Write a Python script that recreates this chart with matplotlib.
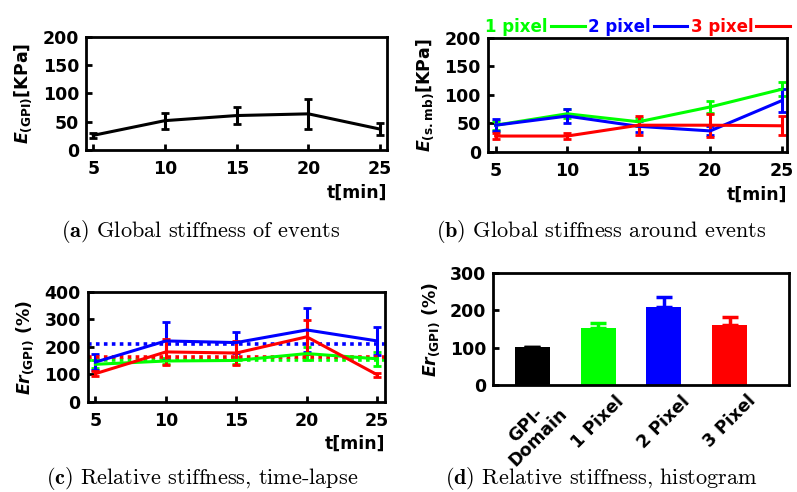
import numpy as np
import matplotlib.pyplot as plt
from matplotlib.lines import Line2D

plt.rcParams['font.family'] = ['DejaVu Sans']
plt.rcParams['font.weight'] = 'bold'
plt.rcParams['font.size'] = 12.5
plt.rcParams['axes.labelweight'] = 'bold'
plt.rcParams['mathtext.fontset'] = 'custom'
plt.rcParams['mathtext.it'] = 'DejaVu Sans:italic:bold'
plt.rcParams['mathtext.rm'] = 'DejaVu Sans:bold'
plt.rcParams['mathtext.bf'] = 'DejaVu Sans:bold'
plt.rcParams['axes.linewidth'] = 2
plt.rcParams['xtick.direction'] = 'in'
plt.rcParams['ytick.direction'] = 'in'
plt.rcParams['xtick.major.width'] = 2
plt.rcParams['ytick.major.width'] = 2
plt.rcParams['xtick.major.size'] = 4
plt.rcParams['ytick.major.size'] = 4
plt.rcParams['xtick.major.pad'] = 7
plt.rcParams['ytick.major.pad'] = 5

# time points (min)
t = [5, 10, 15, 20, 25]

# (a) global stiffness of events
e_gpi = [26, 52, 61, 64, 37]
e_gpi_err = [4, 14, 15, 26, 11]

# (b) global stiffness around events, per ring width
e_1px = [47, 67, 53, 79, 110]
e_1px_err = [8, 8, 7, 11, 12]
e_2px = [47, 63, 45, 37, 90]
e_2px_err = [10, 12, 10, 8, 20]
e_3px = [28, 28, 47, 47, 46]
e_3px_err = [5, 6, 17, 20, 17]

# (c) relative stiffness over time
r_1px = [137, 149, 151, 176, 157]
r_1px_err = [15, 12, 12, 25, 25]
r_2px = [145, 222, 216, 262, 222]
r_2px_err = [30, 68, 38, 80, 50]
r_3px = [103, 182, 178, 237, 99]
r_3px_err = [8, 48, 42, 62, 8]

# (d) relative stiffness histogram
bar_labels = ['GPI-\nDomain', '1 Pixel', '2 Pixel', '3 Pixel']
bar_values = [101, 153, 210, 162]
bar_errors = [1, 12, 27, 20]

GREEN = '#00ff00'
BLUE = '#0000ff'
RED = '#ff0000'
BAR_COLORS = ['black', GREEN, BLUE, RED]
LW = 2.2


def err_line(ax, y, yerr, color):
    ax.errorbar(t, y, yerr=yerr, color=color, lw=LW, elinewidth=LW,
                capsize=3, capthick=2)


def style_time_axis(ax):
    ax.set_xlim(4.5, 25.5)
    ax.set_xticks(t)
    ax.set_xlabel('t[min]', loc='right', labelpad=4)


fig = plt.figure(figsize=(7.97, 4.92), dpi=100)

# (a)
ax1 = fig.add_axes([0.108, 0.695, 0.378, 0.230])
err_line(ax1, e_gpi, e_gpi_err, 'black')
style_time_axis(ax1)
ax1.set_ylim(0, 200)
ax1.set_yticks([0, 50, 100, 150, 200])
ax1.set_ylabel(r'$E_{\rm (GPI)}$[KPa]', labelpad=6)

# (b)
ax2 = fig.add_axes([0.612, 0.691, 0.376, 0.232])
err_line(ax2, e_1px, e_1px_err, GREEN)
err_line(ax2, e_2px, e_2px_err, BLUE)
err_line(ax2, e_3px, e_3px_err, RED)
style_time_axis(ax2)
ax2.set_xlim(4.45, 25.4)
ax2.set_ylim(0, 200)
ax2.set_yticks([0, 50, 100, 150, 200])
ax2.set_ylabel(r'$E_{\rm (s.mb)}$[KPa]', labelpad=6)
handles = [Line2D([], [], color=c, lw=LW) for c in (GREEN, BLUE, RED)]
ax2.legend(handles, ['1 pixel', '2 pixel', '3 pixel'], ncol=3,
           markerfirst=False, labelcolor='linecolor', frameon=False,
           loc='lower center', bbox_to_anchor=(0.5, 1.02), fontsize=12,
           handlelength=2.0, handletextpad=0.2, columnspacing=0.2,
           borderaxespad=0, borderpad=0)

# (c)
ax3 = fig.add_axes([0.110, 0.183, 0.373, 0.2235])
for vals, errs, c, mean in ((r_1px, r_1px_err, GREEN, bar_values[1]),
                            (r_2px, r_2px_err, BLUE, bar_values[2]),
                            (r_3px, r_3px_err, RED, bar_values[3])):
    err_line(ax3, vals, errs, c)
    ax3.axhline(mean, color=c, lw=2.6, ls=(0, (1, 1.2)))
style_time_axis(ax3)
ax3.set_xlim(4.45, 25.55)
ax3.set_ylim(0, 400)
ax3.set_yticks([0, 100, 200, 300, 400])
ax3.set_ylabel(r'$Er_{\rm (GPI)}$ (%)', labelpad=6)

# (d)
ax4 = fig.add_axes([0.619, 0.2175, 0.371, 0.2275])
x = np.arange(len(bar_values))
ax4.bar(x, bar_values, width=0.53, color=BAR_COLORS)
for xi, v, e, c in zip(x, bar_values, bar_errors, BAR_COLORS):
    ax4.errorbar(xi, v, yerr=[[0], [e]], color=c, elinewidth=2.5,
                 capsize=5.5, capthick=2.5)
ax4.set_xlim(-0.59, 3.9)
ax4.set_ylim(0, 300)
ax4.set_yticks([0, 100, 200, 300])
ax4.set_xticks(x)
ax4.set_xticklabels(bar_labels, rotation=45, ha='center', va='top',
                    ma='center', linespacing=1.0)
ax4.tick_params(axis='x', length=0, pad=5)
ax4.set_ylabel(r'$Er_{\rm (GPI)}$ (%)', labelpad=6)

# captions
captions = [
    (0.251, 0.530, r'$\mathbf{(a)}$ Global stiffness of events'),
    (0.754, 0.530, r'$\mathbf{(b)}$ Global stiffness around events'),
    (0.253, 0.028, r'$\mathbf{(c)}$ Relative stiffness, time-lapse'),
    (0.754, 0.028, r'$\mathbf{(d)}$ Relative stiffness, histogram'),
]
for cx, cy, s in captions:
    fig.text(cx, cy, s, ha='center', va='center', fontsize=16,
             fontweight='normal', family='cmr10', math_fontfamily='cm')

fig.savefig('out.png', dpi=100)
